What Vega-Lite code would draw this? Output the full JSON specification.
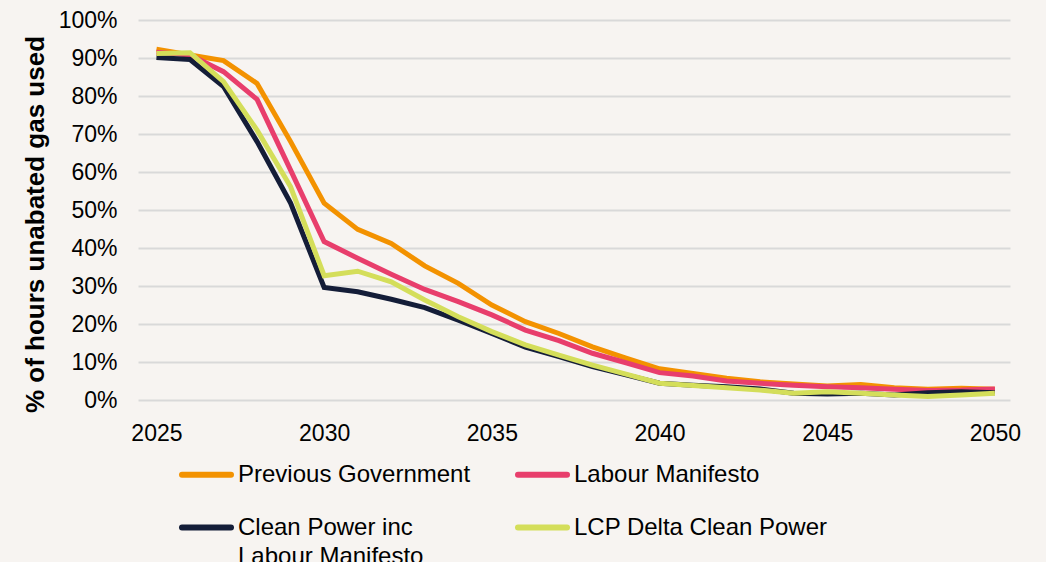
{
  "$schema": "https://vega.github.io/schema/vega-lite/v6.json",
  "width": 872,
  "height": 380,
  "autosize": "none",
  "padding": {"left": 138, "top": 20, "right": 36, "bottom": 162},
  "background": "#f7f4f1",
  "config": {
    "view": {"stroke": null},
    "font": "Liberation Sans"
  },
  "data": {
    "values": [
      {"year": 2025, "series": "Previous Government", "v": 0.923},
      {"year": 2026, "series": "Previous Government", "v": 0.908},
      {"year": 2027, "series": "Previous Government", "v": 0.893},
      {"year": 2028, "series": "Previous Government", "v": 0.833},
      {"year": 2029, "series": "Previous Government", "v": 0.68},
      {"year": 2030, "series": "Previous Government", "v": 0.518},
      {"year": 2031, "series": "Previous Government", "v": 0.449},
      {"year": 2032, "series": "Previous Government", "v": 0.412},
      {"year": 2033, "series": "Previous Government", "v": 0.353},
      {"year": 2034, "series": "Previous Government", "v": 0.307},
      {"year": 2035, "series": "Previous Government", "v": 0.25},
      {"year": 2036, "series": "Previous Government", "v": 0.206},
      {"year": 2037, "series": "Previous Government", "v": 0.175},
      {"year": 2038, "series": "Previous Government", "v": 0.14},
      {"year": 2039, "series": "Previous Government", "v": 0.11},
      {"year": 2040, "series": "Previous Government", "v": 0.082},
      {"year": 2041, "series": "Previous Government", "v": 0.07},
      {"year": 2042, "series": "Previous Government", "v": 0.057},
      {"year": 2043, "series": "Previous Government", "v": 0.048},
      {"year": 2044, "series": "Previous Government", "v": 0.042},
      {"year": 2045, "series": "Previous Government", "v": 0.037},
      {"year": 2046, "series": "Previous Government", "v": 0.041},
      {"year": 2047, "series": "Previous Government", "v": 0.032},
      {"year": 2048, "series": "Previous Government", "v": 0.028},
      {"year": 2049, "series": "Previous Government", "v": 0.031},
      {"year": 2050, "series": "Previous Government", "v": 0.028},
      {"year": 2025, "series": "Labour Manifesto", "v": 0.915},
      {"year": 2026, "series": "Labour Manifesto", "v": 0.908},
      {"year": 2027, "series": "Labour Manifesto", "v": 0.864},
      {"year": 2028, "series": "Labour Manifesto", "v": 0.791},
      {"year": 2029, "series": "Labour Manifesto", "v": 0.605},
      {"year": 2030, "series": "Labour Manifesto", "v": 0.417},
      {"year": 2031, "series": "Labour Manifesto", "v": 0.373},
      {"year": 2032, "series": "Labour Manifesto", "v": 0.331},
      {"year": 2033, "series": "Labour Manifesto", "v": 0.291},
      {"year": 2034, "series": "Labour Manifesto", "v": 0.259},
      {"year": 2035, "series": "Labour Manifesto", "v": 0.224},
      {"year": 2036, "series": "Labour Manifesto", "v": 0.184},
      {"year": 2037, "series": "Labour Manifesto", "v": 0.156},
      {"year": 2038, "series": "Labour Manifesto", "v": 0.123},
      {"year": 2039, "series": "Labour Manifesto", "v": 0.098},
      {"year": 2040, "series": "Labour Manifesto", "v": 0.072},
      {"year": 2041, "series": "Labour Manifesto", "v": 0.063},
      {"year": 2042, "series": "Labour Manifesto", "v": 0.05},
      {"year": 2043, "series": "Labour Manifesto", "v": 0.044},
      {"year": 2044, "series": "Labour Manifesto", "v": 0.039},
      {"year": 2045, "series": "Labour Manifesto", "v": 0.035},
      {"year": 2046, "series": "Labour Manifesto", "v": 0.032},
      {"year": 2047, "series": "Labour Manifesto", "v": 0.028},
      {"year": 2048, "series": "Labour Manifesto", "v": 0.025},
      {"year": 2049, "series": "Labour Manifesto", "v": 0.026},
      {"year": 2050, "series": "Labour Manifesto", "v": 0.029},
      {"year": 2025, "series": "Clean Power inc Labour Manifesto", "v": 0.901},
      {"year": 2026, "series": "Clean Power inc Labour Manifesto", "v": 0.896},
      {"year": 2027, "series": "Clean Power inc Labour Manifesto", "v": 0.825},
      {"year": 2028, "series": "Clean Power inc Labour Manifesto", "v": 0.68},
      {"year": 2029, "series": "Clean Power inc Labour Manifesto", "v": 0.518},
      {"year": 2030, "series": "Clean Power inc Labour Manifesto", "v": 0.296},
      {"year": 2031, "series": "Clean Power inc Labour Manifesto", "v": 0.285},
      {"year": 2032, "series": "Clean Power inc Labour Manifesto", "v": 0.265},
      {"year": 2033, "series": "Clean Power inc Labour Manifesto", "v": 0.243},
      {"year": 2034, "series": "Clean Power inc Labour Manifesto", "v": 0.21},
      {"year": 2035, "series": "Clean Power inc Labour Manifesto", "v": 0.175},
      {"year": 2036, "series": "Clean Power inc Labour Manifesto", "v": 0.139},
      {"year": 2037, "series": "Clean Power inc Labour Manifesto", "v": 0.114},
      {"year": 2038, "series": "Clean Power inc Labour Manifesto", "v": 0.088},
      {"year": 2039, "series": "Clean Power inc Labour Manifesto", "v": 0.066},
      {"year": 2040, "series": "Clean Power inc Labour Manifesto", "v": 0.044},
      {"year": 2041, "series": "Clean Power inc Labour Manifesto", "v": 0.039},
      {"year": 2042, "series": "Clean Power inc Labour Manifesto", "v": 0.035},
      {"year": 2043, "series": "Clean Power inc Labour Manifesto", "v": 0.029},
      {"year": 2044, "series": "Clean Power inc Labour Manifesto", "v": 0.018},
      {"year": 2045, "series": "Clean Power inc Labour Manifesto", "v": 0.016},
      {"year": 2046, "series": "Clean Power inc Labour Manifesto", "v": 0.018},
      {"year": 2047, "series": "Clean Power inc Labour Manifesto", "v": 0.013},
      {"year": 2048, "series": "Clean Power inc Labour Manifesto", "v": 0.019},
      {"year": 2049, "series": "Clean Power inc Labour Manifesto", "v": 0.022},
      {"year": 2050, "series": "Clean Power inc Labour Manifesto", "v": 0.019},
      {"year": 2025, "series": "LCP Delta Clean Power", "v": 0.912},
      {"year": 2026, "series": "LCP Delta Clean Power", "v": 0.914},
      {"year": 2027, "series": "LCP Delta Clean Power", "v": 0.838},
      {"year": 2028, "series": "LCP Delta Clean Power", "v": 0.71},
      {"year": 2029, "series": "LCP Delta Clean Power", "v": 0.561},
      {"year": 2030, "series": "LCP Delta Clean Power", "v": 0.327},
      {"year": 2031, "series": "LCP Delta Clean Power", "v": 0.339},
      {"year": 2032, "series": "LCP Delta Clean Power", "v": 0.311},
      {"year": 2033, "series": "LCP Delta Clean Power", "v": 0.263},
      {"year": 2034, "series": "LCP Delta Clean Power", "v": 0.219},
      {"year": 2035, "series": "LCP Delta Clean Power", "v": 0.18},
      {"year": 2036, "series": "LCP Delta Clean Power", "v": 0.145},
      {"year": 2037, "series": "LCP Delta Clean Power", "v": 0.118},
      {"year": 2038, "series": "LCP Delta Clean Power", "v": 0.092},
      {"year": 2039, "series": "LCP Delta Clean Power", "v": 0.068},
      {"year": 2040, "series": "LCP Delta Clean Power", "v": 0.044},
      {"year": 2041, "series": "LCP Delta Clean Power", "v": 0.038},
      {"year": 2042, "series": "LCP Delta Clean Power", "v": 0.032},
      {"year": 2043, "series": "LCP Delta Clean Power", "v": 0.026},
      {"year": 2044, "series": "LCP Delta Clean Power", "v": 0.018},
      {"year": 2045, "series": "LCP Delta Clean Power", "v": 0.022},
      {"year": 2046, "series": "LCP Delta Clean Power", "v": 0.018},
      {"year": 2047, "series": "LCP Delta Clean Power", "v": 0.013},
      {"year": 2048, "series": "LCP Delta Clean Power", "v": 0.009},
      {"year": 2049, "series": "LCP Delta Clean Power", "v": 0.013},
      {"year": 2050, "series": "LCP Delta Clean Power", "v": 0.018}
    ]
  },
  "mark": {"type": "line", "strokeWidth": 5, "strokeJoin": "miter"},
  "encoding": {
    "x": {
      "field": "year",
      "type": "quantitative",
      "scale": {"domain": [2024.45, 2050.45], "nice": false, "zero": false},
      "axis": {
        "values": [2025, 2030, 2035, 2040, 2045, 2050],
        "format": "d",
        "title": null,
        "grid": false,
        "domain": false,
        "ticks": false,
        "labelFontSize": 23,
        "labelColor": "#000000",
        "labelPadding": 22,
        "labelFlush": false
      }
    },
    "y": {
      "field": "v",
      "type": "quantitative",
      "scale": {"domain": [0, 1], "nice": false},
      "axis": {
        "values": [0, 0.1, 0.2, 0.3, 0.4, 0.5, 0.6, 0.7, 0.8, 0.9, 1],
        "format": ".0%",
        "title": "% of hours unabated gas used",
        "titleFontSize": 26,
        "titleFontWeight": "bold",
        "titleColor": "#000000",
        "titleX": -103,
        "titleY": 204,
        "titleAngle": -90,
        "titleAlign": "center",
        "titleBaseline": "middle",
        "domain": false,
        "ticks": false,
        "labelFontSize": 23,
        "labelColor": "#000000",
        "labelPadding": 21,
        "gridColor": "#d9d9d9",
        "gridWidth": 2,
        "gridOpacity": 1
      }
    },
    "color": {
      "field": "series",
      "type": "nominal",
      "scale": {
        "domain": ["Previous Government", "Labour Manifesto", "Clean Power inc Labour Manifesto", "LCP Delta Clean Power"],
        "range": ["#f39200", "#e83e6c", "#141d38", "#d4de5a"]
      },
      "legend": {
        "title": null,
        "orient": "none",
        "legendX": 41,
        "legendY": 427,
        "direction": "horizontal",
        "columns": 2,
        "columnPadding": 35,
        "rowPadding": 13,
        "padding": 0,
        "symbolType": "stroke",
        "symbolSize": 2401,
        "symbolStrokeWidth": 6,
        "labelFontSize": 24,
        "labelColor": "#000000",
        "labelOffset": 4,
        "labelLimit": 400,
        "labelExpr": "datum.label == 'Clean Power inc Labour Manifesto' ? ['Clean Power inc', 'Labour Manifesto'] : datum.label",
        "encode": {
          "symbols": {"update": {"strokeCap": {"value": "round"}}},
          "labels": {"update": {"lineHeight": {"value": 29}}}
        }
      }
    }
  }
}
